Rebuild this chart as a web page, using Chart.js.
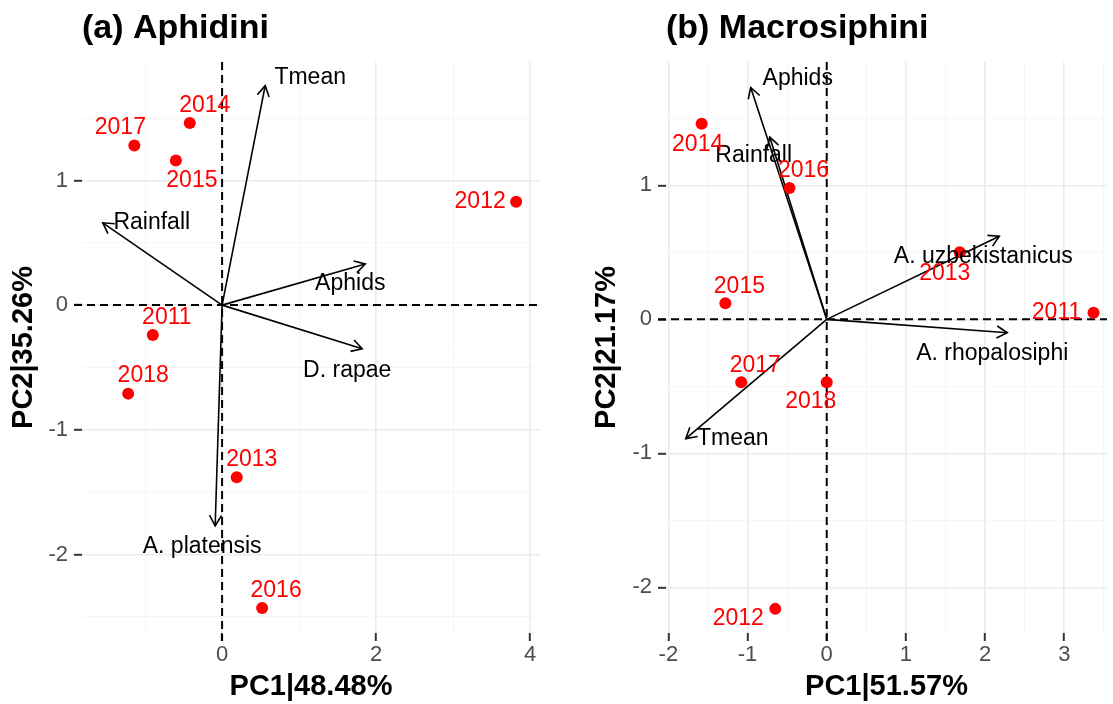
<!DOCTYPE html>
<html lang="en">

<head>
    <meta charset="UTF-8">
    <title>PCA biplots - Aphidini / Macrosiphini</title>
    <script src="https://cdn.jsdelivr.net/npm/chart.js"></script>
    <style>
        body {
            margin: 0;
            background-color: #FFFFFF;
            font-family: "Liberation Sans", Arial, sans-serif;
        }

        .panel {
            position: absolute;
            top: 0;
        }

        #chartA {
            left: 0;
        }

        #chartB {
            left: 556px;
        }
    </style>
</head>

<body>
    <canvas id="chartA" class="panel" width="556" height="704"></canvas>
    <canvas id="chartB" class="panel" width="557" height="704"></canvas>

    <script>
        // Years (row scores)
        const years = ['2011', '2012', '2013', '2014', '2015', '2016', '2017', '2018'];

        // (a) Aphidini - scores
        const aphidiniPC1 = [-0.90, 3.82, 0.19, -0.42, -0.60, 0.52, -1.14, -1.22];
        const aphidiniPC2 = [-0.24, 0.83, -1.38, 1.46, 1.16, -2.43, 1.28, -0.71];
        // (a) Aphidini - variable loadings (arrows)
        const aphidiniVars = ['Tmean', 'Rainfall', 'Aphids', 'D. rapae', 'A. platensis'];
        const aphidiniLoad1 = [0.56, -1.55, 1.86, 1.82, -0.09];
        const aphidiniLoad2 = [1.76, 0.66, 0.33, -0.35, -1.77];
        const aphidiniXTicks = [0, 2, 4];
        const aphidiniXMinor = [-1, 1, 3];
        const aphidiniYTicks = [-2, -1, 0, 1];
        const aphidiniYMinor = [-2.5, -1.5, -0.5, 0.5, 1.5];

        // (b) Macrosiphini - scores
        const macroPC1 = [3.37, -0.65, 1.68, -1.58, -1.28, -0.47, -1.08, 0.00];
        const macroPC2 = [0.05, -2.16, 0.50, 1.46, 0.12, 0.98, -0.47, -0.47];
        // (b) Macrosiphini - variable loadings (arrows)
        const macroVars = ['Aphids', 'Rainfall', 'A. uzbekistanicus', 'A. rhopalosiphi', 'Tmean'];
        const macroLoad1 = [-0.96, -0.72, 2.18, 2.28, -1.78];
        const macroLoad2 = [1.73, 1.36, 0.62, -0.10, -0.89];
        const macroXTicks = [-2, -1, 0, 1, 2, 3];
        const macroXMinor = [-1.5, -0.5, 0.5, 1.5, 2.5, 3.5];
        const macroYTicks = [-2, -1, 0, 1];
        const macroYMinor = [-1.5, -0.5, 0.5, 1.5];

        // label nudges in pixels (like ggrepel output)
        const aphidiniYearNudge = [[14, -17], [-36, 0], [15, -18], [15, -17], [16, 20], [14, -17], [-14, -18], [15, -18]];
        const aphidiniVarNudge = [[45, -8], [49, 0], [-15, 20], [-15, 22], [-13, 21]];
        const macroYearNudge = [[-37, 0], [-37, 10], [-15, 21], [-4, 21], [14, -17], [14, -17], [14, -17], [-16, 19]];
        const macroVarNudge = [[47, -9], [-16, 19], [-16, 20], [-15, 21], [47, 0]];

        const FONT = '"Liberation Sans", Arial, sans-serif';
        const POINT_RED = '#FF0000';

        // draws dashed zero lines, arrowheads, labels and panel title
        const biplotDecor = {
            id: 'biplotDecor',
            beforeDatasetsDraw(chart, args, opts) {
                const { ctx, chartArea: a, scales: { x, y } } = chart;
                const x0 = x.getPixelForValue(0);
                const y0 = y.getPixelForValue(0);
                ctx.save();
                ctx.strokeStyle = '#000';
                ctx.lineWidth = 2;
                ctx.setLineDash([8, 5]);
                ctx.beginPath();
                ctx.moveTo(a.left - 8, y0);
                ctx.lineTo(a.right, y0);
                ctx.moveTo(x0, a.top);
                ctx.lineTo(x0, a.bottom + 8);
                ctx.stroke();
                ctx.restore();
            },
            afterDatasetsDraw(chart, args, opts) {
                const { ctx, scales: { x, y } } = chart;
                const ox = x.getPixelForValue(0);
                const oy = y.getPixelForValue(0);
                ctx.save();
                // arrowheads
                ctx.strokeStyle = '#000';
                ctx.lineWidth = 1.6;
                opts.vars.forEach((v, i) => {
                    const tx = x.getPixelForValue(opts.load1[i]);
                    const ty = y.getPixelForValue(opts.load2[i]);
                    const ang = Math.atan2(ty - oy, tx - ox);
                    const len = 12;
                    ctx.beginPath();
                    ctx.moveTo(tx - len * Math.cos(ang - Math.PI / 6), ty - len * Math.sin(ang - Math.PI / 6));
                    ctx.lineTo(tx, ty);
                    ctx.lineTo(tx - len * Math.cos(ang + Math.PI / 6), ty - len * Math.sin(ang + Math.PI / 6));
                    ctx.stroke();
                });
                ctx.font = '23px ' + FONT;
                ctx.textAlign = 'center';
                ctx.textBaseline = 'middle';
                // variable labels
                ctx.fillStyle = '#000';
                opts.vars.forEach((v, i) => {
                    const tx = x.getPixelForValue(opts.load1[i]);
                    const ty = y.getPixelForValue(opts.load2[i]);
                    ctx.fillText(v, tx + opts.varNudge[i][0], ty + opts.varNudge[i][1]);
                });
                // year labels
                ctx.fillStyle = POINT_RED;
                years.forEach((yr, i) => {
                    const px = x.getPixelForValue(opts.pc1[i]);
                    const py = y.getPixelForValue(opts.pc2[i]);
                    ctx.fillText(yr, px + opts.yearNudge[i][0], py + opts.yearNudge[i][1]);
                });
                ctx.restore();
            },
            afterDraw(chart, args, opts) {
                const { ctx, chartArea } = chart;
                ctx.save();
                ctx.font = 'bold 34px ' + FONT;
                ctx.fillStyle = '#000';
                ctx.textAlign = 'left';
                ctx.textBaseline = 'alphabetic';
                ctx.fillText(opts.title, chartArea.left, 38);
                ctx.restore();
            }
        };

        function makePanel(canvasId, p) {
            const xAll = p.xTicks.concat(p.xMinor).sort((a, b) => a - b);
            const yAll = p.yTicks.concat(p.yMinor).sort((a, b) => a - b);

            const points = years.map((yr, i) => ({ x: p.pc1[i], y: p.pc2[i] }));
            const arrows = p.vars.map((v, i) => ({
                label: v,
                data: [{ x: 0, y: 0 }, { x: p.load1[i], y: p.load2[i] }],
                showLine: true,
                borderColor: '#000',
                borderWidth: 1.6,
                pointRadius: 0,
                order: 2
            }));

            const gridOpts = (majors) => ({
                color: c => majors.includes(c.tick.value) ? '#ebebeb' : '#f5f5f5',
                lineWidth: c => majors.includes(c.tick.value) ? 1.6 : 0.9,
                tickColor: c => majors.includes(c.tick.value) ? '#333333' : 'rgba(0,0,0,0)',
                tickLength: 8,
                tickWidth: 2
            });

            return new Chart(document.getElementById(canvasId), {
                type: 'scatter',
                data: {
                    datasets: [{
                        label: 'years',
                        data: points,
                        pointRadius: 6,
                        pointHoverRadius: 6,
                        backgroundColor: POINT_RED,
                        borderColor: POINT_RED,
                        borderWidth: 0,
                        order: 1
                    }].concat(arrows)
                },
                options: {
                    responsive: false,
                    animation: false,
                    layout: { padding: { top: 62, right: p.rightPad, left: 0, bottom: 0 } },
                    plugins: {
                        legend: { display: false },
                        tooltip: { enabled: false },
                        biplotDecor: {
                            title: p.title,
                            pc1: p.pc1, pc2: p.pc2,
                            vars: p.vars, load1: p.load1, load2: p.load2,
                            yearNudge: p.yearNudge, varNudge: p.varNudge
                        }
                    },
                    scales: {
                        x: {
                            type: 'linear',
                            min: p.xRange[0],
                            max: p.xRange[1],
                            afterBuildTicks: s => { s.ticks = xAll.map(v => ({ value: v })); },
                            afterFit: s => { s.height = 71; s.paddingLeft = 0; s.paddingRight = 0; },
                            grid: gridOpts(p.xTicks),
                            border: { display: false },
                            ticks: {
                                callback: v => p.xTicks.includes(v) ? String(v) : '',
                                color: '#4d4d4d',
                                font: { family: FONT, size: 22 },
                                padding: 1,
                                maxRotation: 0,
                                autoSkip: false
                            },
                            title: {
                                display: true,
                                text: p.xTitle,
                                color: '#000',
                                font: { family: FONT, size: 29, weight: 'bold' },
                                padding: { top: 0, bottom: 0 }
                            }
                        },
                        y: {
                            type: 'linear',
                            min: p.yRange[0],
                            max: p.yRange[1],
                            afterBuildTicks: s => { s.ticks = yAll.map(v => ({ value: v })); },
                            afterFit: s => { s.width = p.yAxisWidth; s.paddingTop = 0; s.paddingBottom = 0; },
                            grid: gridOpts(p.yTicks),
                            border: { display: false },
                            ticks: {
                                callback: v => p.yTicks.includes(v) ? String(v) : '',
                                color: '#4d4d4d',
                                font: { family: FONT, size: 22 },
                                padding: 6,
                                autoSkip: false
                            },
                            title: {
                                display: true,
                                text: p.yTitle,
                                color: '#000',
                                font: { family: FONT, size: 29, weight: 'bold' },
                                padding: { top: p.yTitlePad, bottom: 0 }
                            }
                        }
                    }
                },
                plugins: [biplotDecor]
            });
        }

        makePanel('chartA', {
            title: '(a) Aphidini',
            xTitle: 'PC1|48.48%',
            yTitle: 'PC2|35.26%',
            pc1: aphidiniPC1, pc2: aphidiniPC2,
            vars: aphidiniVars, load1: aphidiniLoad1, load2: aphidiniLoad2,
            xTicks: aphidiniXTicks, xMinor: aphidiniXMinor,
            yTicks: aphidiniYTicks, yMinor: aphidiniYMinor,
            xRange: [-1.82, 4.13],
            yRange: [-2.63, 1.95],
            yAxisWidth: 82,
            yTitlePad: 7,
            rightPad: 16,
            yearNudge: aphidiniYearNudge,
            varNudge: aphidiniVarNudge
        });

        makePanel('chartB', {
            title: '(b) Macrosiphini',
            xTitle: 'PC1|51.57%',
            yTitle: 'PC2|21.17%',
            pc1: macroPC1, pc2: macroPC2,
            vars: macroVars, load1: macroLoad1, load2: macroLoad2,
            xTicks: macroXTicks, xMinor: macroXMinor,
            yTicks: macroYTicks, yMinor: macroYMinor,
            xRange: [-2.03, 3.54],
            yRange: [-2.34, 1.92],
            yAxisWidth: 110,
            yTitlePad: 34,
            rightPad: 0,
            yearNudge: macroYearNudge,
            varNudge: macroVarNudge
        });
    </script>
</body>

</html>
